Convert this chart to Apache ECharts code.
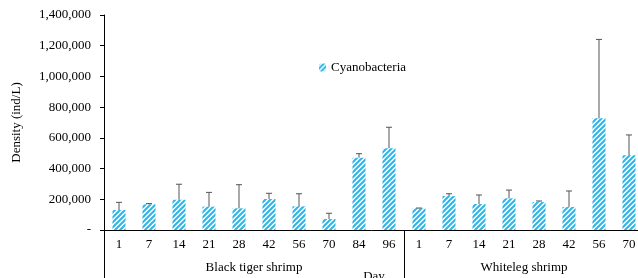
<!DOCTYPE html>
<html>
<head>
<meta charset="utf-8">
<script src="https://cdn.jsdelivr.net/npm/echarts@6/dist/echarts.min.js"></script>
<style>
    html, body { margin: 0; padding: 0; background: #fff; }
    #chart { width: 638px; height: 278px; }
</style>
</head>
<body>
<div id="chart"></div>
<script>
// 数据
const days = ['1', '7', '14', '21', '28', '42', '56', '70', '84', '96', '1', '7', '14', '21', '28', '42', '56', '70'];
const groups = ['Black tiger shrimp', 'Whiteleg shrimp'];
const groupStart = [0, 10];
const groupMid = [5, 14];
const density = [130000, 167000, 197000, 152000, 141000, 202000, 154000, 72000, 471000, 533000,
    141000, 221000, 169000, 206000, 182000, 150000, 727000, 486000];
const errUp = [50000, 5000, 101000, 93000, 154000, 37000, 82000, 37000, 26000, 136000,
    2000, 15000, 59000, 54000, 7000, 104000, 514000, 133000];
const yTicks = [0, 200000, 400000, 600000, 800000, 1000000, 1200000, 1400000];

const font = "'Liberation Serif', 'Times New Roman', serif";

// 斜线填充
function hatch() {
    const c = document.createElement('canvas');
    c.width = c.height = 5;
    const ctx = c.getContext('2d');
    ctx.strokeStyle = '#2bb5ea';
    ctx.lineWidth = 2;
    ctx.beginPath();
    ctx.moveTo(-1, 6); ctx.lineTo(6, -1);
    ctx.moveTo(-1, 1); ctx.lineTo(1, -1);
    ctx.moveTo(4, 6); ctx.lineTo(6, 4);
    ctx.stroke();
    return c;
}
const pattern = { image: hatch(), repeat: 'repeat' };

const errData = density.map((v, i) => [i, v, v + errUp[i]]);

const chart = echarts.init(document.getElementById('chart'));
chart.setOption({
    animation: false,
    grid: { left: 104, right: -6, top: 15, bottom: 48, outerBoundsMode: 'none', containLabel: false },
    legend: {
        data: ['Cyanobacteria'],
        left: 314, top: 56,
        itemWidth: 7, itemHeight: 8, itemGap: 3,
        textStyle: { fontFamily: font, fontSize: 13, color: '#000' }
    },
    xAxis: [{
        type: 'category',
        data: days,
        name: 'Day',
        nameLocation: 'middle',
        nameGap: 40,
        nameTextStyle: { fontFamily: font, fontSize: 13, color: '#000' },
        axisLine: { lineStyle: { color: '#000', width: 1 } },
        axisTick: { interval: 0, length: 23, lineStyle: { color: '#000' } },
        axisLabel: { interval: 0, margin: 8, fontFamily: font, fontSize: 13, color: '#000' }
    }, {
        type: 'value',
        min: 0, max: 18,
        position: 'bottom',
        offset: 0,
        axisLine: { show: false, onZero: false },
        splitLine: { show: false },
        axisTick: { show: true, customValues: groupStart, length: 48, lineStyle: { color: '#000' } },
        axisLabel: {
            customValues: groupMid, margin: 31,
            fontFamily: font, fontSize: 13, color: '#000',
            formatter: v => groups[groupMid.indexOf(v)] || ''
        }
    }],
    yAxis: {
        type: 'value',
        min: 0, max: 1400000, interval: 200000,
        name: 'Density (ind/L)',
        nameLocation: 'middle',
        nameGap: 81,
        nameTextStyle: { fontFamily: font, fontSize: 13, color: '#000' },
        axisLine: { show: true, lineStyle: { color: '#000', width: 1 } },
        axisTick: { show: true, length: 4, lineStyle: { color: '#000' } },
        splitLine: { show: false },
        axisLabel: {
            margin: 13, fontFamily: font, fontSize: 13, color: '#000',
            formatter: v => yTicks.indexOf(v) === 0 ? '-' : v.toLocaleString('en-US')
        }
    },
    series: [{
        name: 'Cyanobacteria',
        type: 'bar',
        data: density,
        barWidth: 13,
        itemStyle: { color: pattern }
    }, {
        type: 'custom',
        data: errData,
        encode: { x: 0, y: [1, 2] },
        z: 3,
        renderItem: (params, api) => {
            const lo = api.coord([api.value(0), api.value(1)]);
            const hi = api.coord([api.value(0), api.value(2)]);
            const style = { stroke: '#555', lineWidth: 1 };
            return {
                type: 'group',
                children: [
                    { type: 'line', shape: { x1: lo[0], y1: lo[1], x2: hi[0], y2: hi[1] }, style },
                    { type: 'line', shape: { x1: hi[0] - 3, y1: hi[1], x2: hi[0] + 3, y2: hi[1] }, style }
                ]
            };
        }
    }]
});
</script>
</body>
</html>
